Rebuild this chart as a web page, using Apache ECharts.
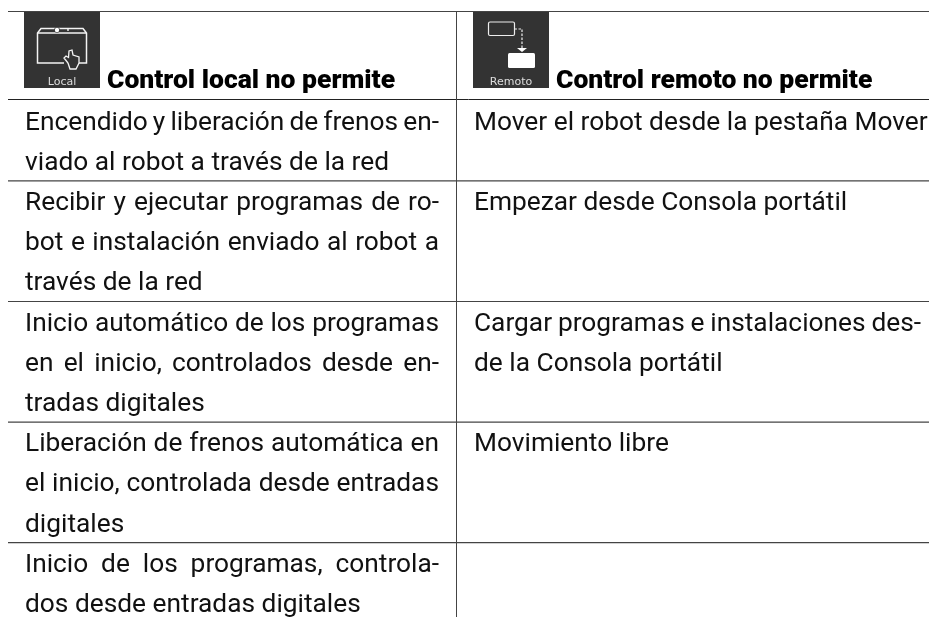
<!DOCTYPE html>
<html>
<head>
<meta charset="utf-8">
<title>Control local / remoto</title>
<style>
html, body { margin: 0; padding: 0; background: #fff; }
#main { width: 929px; height: 617px; }
</style>
<script src="https://cdn.jsdelivr.net/npm/echarts@6/dist/echarts.min.js"></script>
</head>
<body>
<div id="main"></div>
<script>
var headers = ['Control local no permite', 'Control remoto no permite'];
var iconLabels = ['Local', 'Remoto'];
var localCells = [
	['Encendido y liberación de frenos en-', 'viado al robot a través de la red'],
	['Recibir y ejecutar programas de ro-', 'bot e instalación enviado al robot a', 'través de la red'],
	['Inicio automático de los programas', 'en el inicio, controlados desde en-', 'tradas digitales'],
	['Liberación de frenos automática en', 'el inicio, controlada desde entradas', 'digitales'],
	['Inicio de los programas, controla-', 'dos desde entradas digitales']
];
var remoteCells = [
	['Mover el robot desde la pestaña Mover'],
	['Empezar desde Consola portátil'],
	['Cargar programas e instalaciones des-', 'de la Consola portátil'],
	['Movimiento libre'],
	[]
];

var FONT = 'Roboto, sans-serif',
	BODY_SIZE = 26.3,
	HEAD_SIZE = 26.5,
	LINE_COLOR = '#444',
	LINE_H = 40.2,
	columns = [{x: 25, right: 439, icon: 24}, {x: 474, right: 921, icon: 473}],
	rowTop = 99.5;

var measure = document.createElement('canvas').getContext('2d');
measure.font = BODY_SIZE + 'px ' + FONT;

var elements = [];

function hLine(x1, x2, y, width, color){
	elements.push({type: 'line', shape: {x1: x1, y1: y, x2: x2, y2: y}, style: {stroke: color, lineWidth: width}});
}
function vLine(x, y1, y2){
	elements.push({type: 'line', shape: {x1: x, y1: y1, x2: x, y2: y2}, style: {stroke: LINE_COLOR, lineWidth: 1}});
}
function word(text, x, base){
	elements.push({
		type: 'text',
		style: {text: text, x: x, y: base - 5.5, fill: '#111', fontSize: BODY_SIZE, fontFamily: FONT, verticalAlign: 'middle'}
	});
}
// justified lines are placed word by word, like the original typeset table
function textLine(text, col, base, justify){
	var parts = text.split(' '), total = 0;
	parts.forEach(function(p){ total += measure.measureText(p).width; });
	var gap = (col.right - col.x - total) / (parts.length - 1), x = col.x;
	if(!justify){
		word(text, col.x, base);
		return;
	}
	parts.forEach(function(p){
		word(p, x, base);
		x += measure.measureText(p).width + gap;
	});
}
function shape(type, sh, style){
	elements.push({type: type, shape: sh, style: style});
}

function drawLocalIcon(x){
	var w = {fill: '#fff'}, o = {fill: 'none', stroke: '#f4f4f4', lineWidth: 1.5};
	shape('rect', {x: x, y: 12, width: 76, height: 76}, {fill: '#333'});
	shape('polyline', {points: [[x + 40, 63], [x + 13.5, 63], [x + 13.5, 33], [x + 17, 28.5], [x + 59, 28.5], [x + 62.5, 33], [x + 62.5, 63], [x + 54, 63]]}, o);
	shape('line', {x1: x + 14, y1: 33, x2: x + 62, y2: 33}, {stroke: '#f4f4f4', lineWidth: 1.5});
	shape('circle', {cx: x + 33, cy: 30, r: 2.8}, {fill: '#333'});
	shape('circle', {cx: x + 33, cy: 30, r: 2.2}, w);
	shape('circle', {cx: x + 44, cy: 30, r: 0.9}, w);
	shape('polyline', {points: [[x + 44, 63], [x + 40, 58], [x + 42, 56], [x + 44.5, 57.5], [x + 45, 51], [x + 48, 50], [x + 49, 55], [x + 55, 57], [x + 55, 63], [x + 52, 69], [x + 46, 69], [x + 44, 63]]}, {fill: '#333', stroke: '#f4f4f4', lineWidth: 1.3});
}
function drawRemoteIcon(x){
	var o = {fill: 'none', stroke: '#eee', lineWidth: 1.2};
	shape('rect', {x: x, y: 12, width: 76, height: 76}, {fill: '#333'});
	shape('rect', {x: x + 15.5, y: 22, width: 26, height: 13.5, r: 1.5}, o);
	shape('polyline', {points: [[x + 41.5, 29], [x + 49, 29], [x + 49, 49]]}, {fill: 'none', stroke: '#eee', lineWidth: 1.2, lineDash: [2.5, 1.5]});
	shape('polygon', {points: [[x + 44, 48], [x + 54, 48], [x + 49, 52]]}, {fill: '#fff'});
	shape('rect', {x: x + 35, y: 53, width: 27, height: 15, r: 1.5}, {fill: '#fff'});
}

hLine(8, 929, 11.5, 1.2, LINE_COLOR);
hLine(8, 929, 99.5, 1, '#222');
vLine(456.5, 11, 617);

drawLocalIcon(columns[0].icon);
drawRemoteIcon(columns[1].icon);

headers.forEach(function(h, i){
	elements.push({
		type: 'text',
		style: {text: iconLabels[i], x: columns[i].icon + 38, y: 82, fill: '#ddd', fontSize: 11, fontFamily: 'DejaVu Sans, sans-serif', align: 'center', verticalAlign: 'middle'}
	});
	elements.push({
		type: 'text',
		style: {text: h, x: columns[i].icon + 83, y: 81, fill: '#000', fontSize: HEAD_SIZE, fontWeight: 900, fontFamily: FONT, verticalAlign: 'middle'}
	});
});

localCells.forEach(function(cell, r){
	var lines = localCells.slice(0, r).reduce(function(n, c){ return n + c.length; }, 0);
	var y0 = rowTop + lines * LINE_H;
	cell.forEach(function(t, k){
		textLine(t, columns[0], y0 + 29 + k * LINE_H, k < cell.length - 1);
	});
	if(r < localCells.length - 1){
		hLine(8, 929, y0 + cell.length * LINE_H + 1, 1.2, LINE_COLOR);
	}
	remoteCells[r].forEach(function(t, k){
		textLine(t, columns[1], y0 + 29 + k * LINE_H, k < remoteCells[r].length - 1);
	});
});

var myChart = echarts.init(document.getElementById('main'), null, {renderer: 'canvas'});
myChart.setOption({
	backgroundColor: '#fff',
	animation: false,
	graphic: {elements: elements}
});
</script>
</body>
</html>
